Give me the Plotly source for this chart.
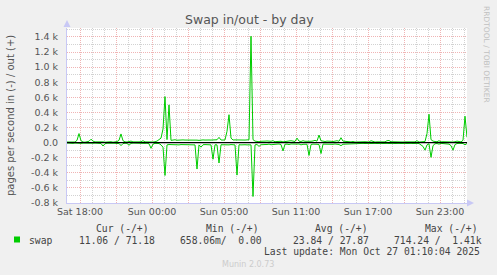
import plotly.graph_objects as go

# ---------------- data (pages per second) ----------------
# samples every 10 minutes, starting 16:55 Sat (hours relative to Sat 18:00)
start_hours = -13 / 12
step_hours = 10 / 60

swap_out = [
    8, 10, 6, 12, 8, 30, 120, 25, 8, 6, 10, 18, 45, 20, 10, 12, 8, 15, 10, 6,
    10, 8, 12, 6, 10, 14, 30, 115, 25, 10, 8, 12, 20, 10, 8, 6, 10, 12, 25, 10,
    8, 6, 10, 8, 12, 20, 40, 60, 180, 610, 40, 500, 30, 35, 38, 32, 35, 40, 36, 34,
    35, 38, 34, 36, 35, 33, 30, 35, 36, 34, 38, 35, 34, 36, 35, 38, 70, 35, 34, 36,
    150, 370, 60, 35, 36, 34, 35, 36, 35, 34, 36, 38, 1410, 40, 20, 15, 12, 18, 15, 20,
    22, 15, 18, 25, 12, 15, 20, 18, 10, 15, 22, 18, 25, 20, 15, 60, 20, 15, 25, 18,
    15, 20, 18, 22, 30, 20, 100, 25, 18, 15, 20, 22, 18, 15, 20, 25, 18, 65, 20, 15,
    18, 12, 10, 15, 8, 10, 12, 10, 8, 12, 10, 8, 25, 12, 8, 10, 12, 10, 8, 10,
    25, 28, 12, 10, 10, 8, 10, 12, 8, 10, 10, 8, 10, 12, 10, 25, 8, 10, 12, 15,
    120, 376, 40, 20, 15, 12, 25, 10, 12, 10, 8, 12, 10, 8, 12, 20, 15, 10, 30, 350, 71.18,
]

swap_in = [
    5, 8, 6, 10, 5, 8, 12, 10, 6, 8, 5, 10, 15, 8, 6, 10, 8, 12, 45, 15,
    8, 6, 10, 5, 8, 12, 10, 40, 12, 8, 10, 35, 10, 6, 8, 10, 5, 8, 12, 10,
    8, 15, 75, 20, 10, 8, 12, 30, 60, 435, 30, 25, 28, 30, 25, 28, 30, 26, 28, 30,
    28, 30, 26, 28, 30, 350, 30, 60, 28, 26, 30, 28, 30, 220, 28, 30, 270, 28, 30, 26,
    28, 30, 26, 28, 30, 430, 28, 30, 26, 28, 30, 28, 30, 714, 30, 25, 50, 28, 22, 25,
    25, 20, 28, 22, 25, 20, 18, 25, 110, 22, 20, 25, 18, 22, 25, 20, 18, 30, 22, 20,
    22, 170, 25, 20, 18, 22, 25, 145, 20, 22, 18, 25, 20, 22, 18, 20, 25, 40, 22, 20,
    18, 15, 12, 10, 8, 12, 10, 8, 10, 12, 8, 10, 12, 8, 10, 12, 8, 10, 12, 8,
    10, 12, 8, 10, 12, 8, 10, 12, 8, 10, 12, 8, 10, 12, 8, 10, 12, 30, 50, 100,
    30, 15, 195, 40, 15, 12, 20, 10, 12, 15, 12, 20, 40, 100, 25, 12, 10, 15, 12, 30, 11.06,
]

x_tick_hours = [0, 3, 6, 9, 12, 15, 18, 21, 24, 27, 30]
x_tick_labels = ["Sat 18:00", "", "Sun 00:00", "", "Sun 05:00", "",
                 "Sun 11:00", "", "Sun 17:00", "", "Sun 23:00"]

y_tick_values = [-800, -600, -400, -200, 0, 200, 400, 600, 800, 1000, 1200, 1400]
y_tick_labels = ["-0.8 k", "-0.6 k", "-0.4 k", "-0.2 k", "0.0", "0.2 k",
                 "0.4 k", "0.6 k", "0.8 k", "1.0 k", "1.2 k", "1.4 k"]

legend_headers = ["Cur (-/+)", "Min (-/+)", "Avg (-/+)", "Max (-/+)"]
legend_values = ["11.06 / 71.18", "658.06m/  0.00", "23.84 / 27.87", "714.24 /  1.41k"]
series_name = "swap"
last_update = "Last update: Mon Oct 27 01:10:04 2025"

times = [start_hours + step_hours * i for i in range(len(swap_out))]
neg_in = [-v for v in swap_in]

# ---------------- layout geometry ----------------
W, H = 497, 275
L, R, T, B = 67, 30, 28, 72
PW, PH = W - L - R, H - T - B


def xp(px):
    return (px - L) / PW


def yp(py):
    return (H - B - py) / PH


GREEN = "#00CC00"
TXT = "#555555"
MINOR = "#D2D2D2"
MAJOR = "#F0B4B4"
AXIS = "#C8C8F5"

fig = go.Figure()
fig.add_trace(go.Scatter(x=times, y=neg_in, mode="lines",
                         line=dict(color=GREEN, width=1), showlegend=False,
                         hoverinfo="skip"))
fig.add_trace(go.Scatter(x=times, y=swap_out, mode="lines",
                         line=dict(color=GREEN, width=1), showlegend=False,
                         hoverinfo="skip"))

fig.update_layout(
    width=W, height=H,
    margin=dict(l=L, r=R, t=T, b=B, pad=0),
    paper_bgcolor="#F0F0F0",
    plot_bgcolor="#FFFFFF",
    font=dict(family="DejaVu Sans", size=9.5, color=TXT),
    showlegend=False,
    xaxis=dict(
        range=[(L - 80) / 12, (W - R - 80) / 12],
        tickmode="array", tickvals=x_tick_hours, ticktext=x_tick_labels,
        showgrid=True, gridcolor=MAJOR, griddash="1px,1px", gridwidth=1,
        minor=dict(dtick=1, tick0=0, showgrid=True, gridcolor=MINOR,
                   griddash="1px,1px", gridwidth=1),
        zeroline=False, showline=True, linecolor=AXIS, linewidth=1,
        ticks="", tickfont=dict(size=9.5, color=TXT),
        fixedrange=True,
    ),
    yaxis=dict(
        range=[-800, 1519],
        tickmode="array", tickvals=y_tick_values, ticktext=y_tick_labels,
        showgrid=True, gridcolor=MAJOR, griddash="1px,1px", gridwidth=1,
        minor=dict(dtick=100, tick0=0, showgrid=True, gridcolor=MINOR,
                   griddash="1px,1px", gridwidth=1),
        zeroline=False, showline=True, linecolor=AXIS, linewidth=1,
        ticks="", ticklabelstandoff=6, tickfont=dict(size=9.5, color=TXT),
        fixedrange=True,
    ),
)

shapes = [
    # zero line
    dict(type="line", xref="paper", yref="y", x0=0, x1=1, y0=0, y1=0,
         line=dict(color="#000000", width=1.2), layer="above"),
    # axis arrows
    dict(type="path", xref="paper", yref="paper",
         path=f"M {xp(63.5)},{yp(27)} L {xp(70.5)},{yp(27)} L {xp(67)},{yp(20)} Z",
         fillcolor=AXIS, line=dict(width=0)),
    dict(type="path", xref="paper", yref="paper",
         path=f"M {xp(467)},{yp(199.5)} L {xp(467)},{yp(206.5)} L {xp(474)},{yp(203)} Z",
         fillcolor=AXIS, line=dict(width=0)),
    # legend colour box
    dict(type="rect", xref="paper", yref="paper",
         x0=xp(14), x1=xp(20), y0=yp(242.5), y1=yp(236.5),
         fillcolor=GREEN, line=dict(width=0)),
]
fig.update_layout(shapes=shapes)

ann = []
ann.append(dict(text="Swap in/out - by day", x=xp(249), y=yp(20), xref="paper", yref="paper",
                showarrow=False, xanchor="center", yanchor="middle",
                font=dict(family="DejaVu Sans", size=12.5, color=TXT)))
ann.append(dict(text="pages per second in (-) / out (+)", x=xp(10), y=yp(116),
                xref="paper", yref="paper", showarrow=False, textangle=-90,
                xanchor="center", yanchor="middle",
                font=dict(family="DejaVu Sans", size=10, color=TXT)))
ann.append(dict(text="RRDTOOL / TOBI OETIKER", x=xp(487), y=yp(54),
                xref="paper", yref="paper", showarrow=False, textangle=90,
                xanchor="center", yanchor="middle",
                font=dict(family="DejaVu Sans", size=7.5, color="#C0C0C0")))

mono = dict(family="DejaVu Sans Mono", size=9.7, color="#444444")
header_x = [94, 204, 313, 423]
value_x = [77, 178, 291, 392]
for txt, px in zip(legend_headers, header_x):
    ann.append(dict(text=txt, x=xp(px), y=yp(228), xref="paper", yref="paper",
                    showarrow=False, xanchor="left", yanchor="middle", font=mono))
for txt, px in zip(legend_values, value_x):
    ann.append(dict(text=txt.replace(" ", "&nbsp;"), x=xp(px), y=yp(240), xref="paper", yref="paper",
                    showarrow=False, xanchor="left", yanchor="middle", font=mono))
ann.append(dict(text=series_name, x=xp(27), y=yp(240), xref="paper", yref="paper",
                showarrow=False, xanchor="left", yanchor="middle", font=mono))
ann.append(dict(text=last_update, x=xp(482), y=yp(251), xref="paper", yref="paper",
                showarrow=False, xanchor="right", yanchor="middle", font=mono))
ann.append(dict(text="Munin 2.0.73", x=xp(248), y=yp(264), xref="paper", yref="paper",
                showarrow=False, xanchor="center", yanchor="middle",
                font=dict(family="DejaVu Sans", size=8, color="#CCCCCC")))
fig.update_layout(annotations=ann)

fig.write_html("out.html", config={"displayModeBar": False})
